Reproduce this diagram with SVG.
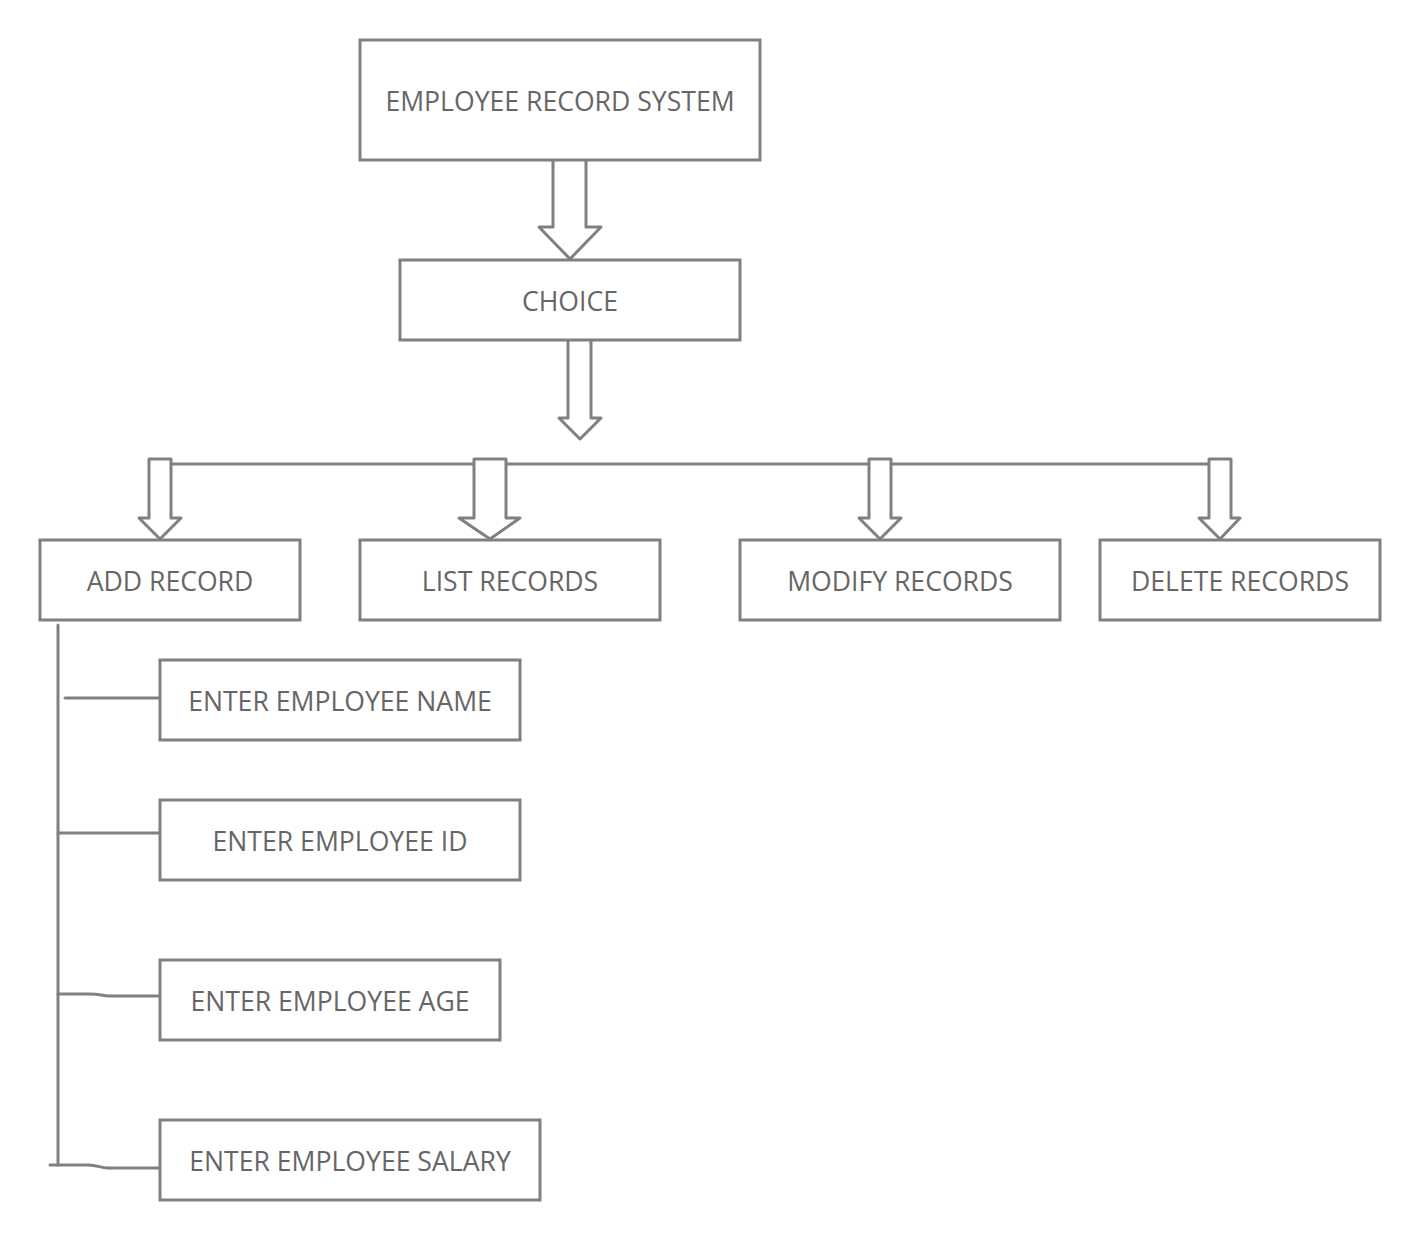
<svg xmlns="http://www.w3.org/2000/svg" width="1420" height="1240" viewBox="0 0 1420 1240">
<style>
.box{fill:#fff;stroke:#808080;stroke-width:3}
.ln{fill:none;stroke:#808080;stroke-width:3;stroke-linejoin:round;stroke-linecap:round}
.ar{fill:#fff;stroke:#808080;stroke-width:3;stroke-linejoin:round}
text{font-family:"Open Sans","Noto Sans",sans-serif;font-size:26.6px;fill:#666;text-anchor:middle;dominant-baseline:central}
</style>
<rect width="1420" height="1240" fill="#fff"/>
<g id="connectors">
<path class="ar" d="M553,160 V227 H539 L570,259 L601,227 H586 V160"/>
<path class="ar" d="M568,340 V418 H559 L580,439 L601,418 H591 V340"/>
<path class="ln" d="M171,464 H1209"/>
<path class="ar" d="M149,459 V518 H139 L160,539 L181,518 H171 V459 Z"/>
<path class="ar" d="M474,459 V518 H459 L490,539 L520,518 H506 V459 Z"/>
<path class="ar" d="M869,459 V518 H859 L880,539 L901,518 H891 V459 Z"/>
<path class="ar" d="M1209,459 V518 H1199 L1220,539 L1240,518 H1231 V459 Z"/>
<path class="ln" d="M58,625 V1165"/>
<path class="ln" d="M65,698 H160"/>
<path class="ln" d="M58,833 H160"/>
<path class="ln" d="M58,994 H90 C100,994 102,996 110,996 H160"/>
<path class="ln" d="M50,1165 H88 C98,1165 100,1168 108,1168 H160"/>
</g>
<g id="n-system"><rect class="box" x="360" y="40" width="400" height="120"/><text x="560" y="100.5">EMPLOYEE RECORD SYSTEM</text></g>
<g id="n-choice"><rect class="box" x="400" y="260" width="340" height="80"/><text x="570" y="300.5">CHOICE</text></g>
<g id="n-add"><rect class="box" x="40" y="540" width="260" height="80"/><text x="170" y="580.5">ADD RECORD</text></g>
<g id="n-list"><rect class="box" x="360" y="540" width="300" height="80"/><text x="510" y="580.5">LIST RECORDS</text></g>
<g id="n-modify"><rect class="box" x="740" y="540" width="320" height="80"/><text x="900" y="580.5">MODIFY RECORDS</text></g>
<g id="n-delete"><rect class="box" x="1100" y="540" width="280" height="80"/><text x="1240" y="580.5">DELETE RECORDS</text></g>
<g id="n-name"><rect class="box" x="160" y="660" width="360" height="80"/><text x="340" y="700.5">ENTER EMPLOYEE NAME</text></g>
<g id="n-id"><rect class="box" x="160" y="800" width="360" height="80"/><text x="340" y="840.5">ENTER EMPLOYEE ID</text></g>
<g id="n-age"><rect class="box" x="160" y="960" width="340" height="80"/><text x="330" y="1000.5">ENTER EMPLOYEE AGE</text></g>
<g id="n-salary"><rect class="box" x="160" y="1120" width="380" height="80"/><text x="350" y="1160.5">ENTER EMPLOYEE SALARY</text></g>
</svg>
